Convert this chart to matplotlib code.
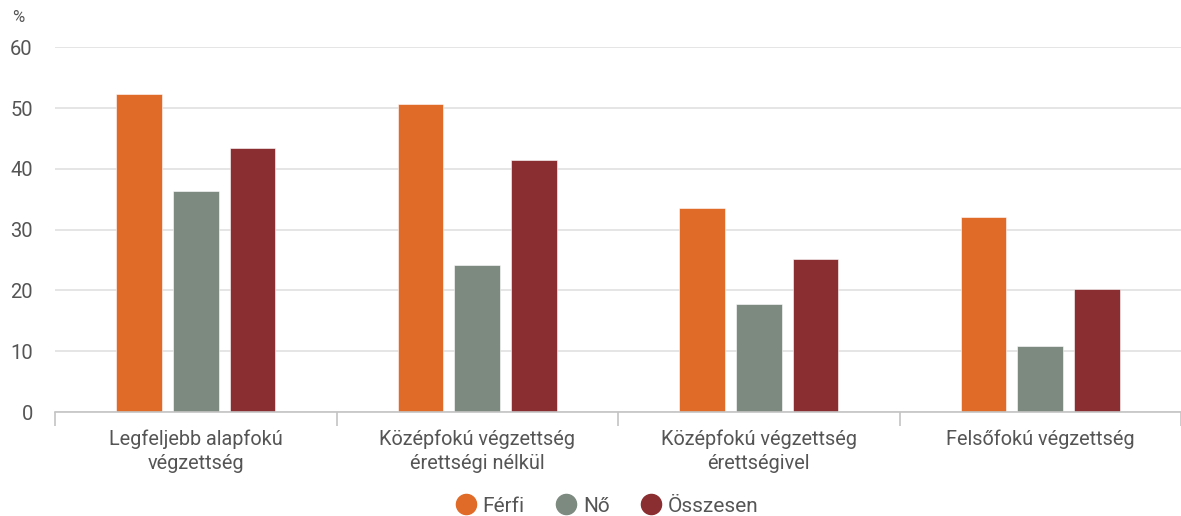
import matplotlib
matplotlib.use("Agg")
import matplotlib.pyplot as plt
from matplotlib.lines import Line2D
import numpy as np

plt.rcParams['font.family'] = ['Roboto', 'DejaVu Sans']

categories = ["Legfeljebb alapfokú\nvégzettség",
              "Középfokú végzettség\nérettségi nélkül",
              "Középfokú végzettség\nérettségivel",
              "Felsőfokú végzettség"]
series_names = ["Férfi", "Nő", "Összesen"]
ferfi = [52.3, 50.6, 33.5, 32.0]
no = [36.4, 24.2, 17.7, 10.8]
osszesen = [43.5, 41.4, 25.2, 20.3]
yticks = [0, 10, 20, 30, 40, 50, 60]

colors = ["#E06B29", "#7D8A7F", "#8B2E31"]
text_color = "#555555"

W, H = 1181, 516
fig = plt.figure(figsize=(W / 100, H / 100), dpi=100)
left_px, right_px, top_px, bottom_px = 55, 1181, 47.3, 412
ax = fig.add_axes([left_px / W, (H - bottom_px) / H,
                   (right_px - left_px) / W, (bottom_px - top_px) / H])

cat_px = 283.7
x = np.arange(len(categories))
width = 0.162
step = 0.201
for k, (vals, name) in enumerate(zip([ferfi, no, osszesen], series_names)):
    ax.bar(x + (k - 1) * step, vals, width, color=colors[k], zorder=3,
           edgecolor="white", linewidth=0.4)

ax.set_xlim(-0.5, -0.5 + (right_px - left_px) / cat_px)
ax.set_ylim(0, 60)
ax.set_yticks(yticks)
ax.set_yticklabels([str(v) for v in yticks], fontsize=14.5, color=text_color)
ax.tick_params(axis='y', length=0, pad=16)
ax.grid(axis='y', color="#e3e3e3", linewidth=1.3, zorder=0)

# category labels centred under each group, boundary ticks between groups
ax.set_xticks(np.arange(len(categories) + 1) - 0.5, minor=False)
ax.set_xticklabels([])
ax.tick_params(axis='x', length=10, width=1.2, color="#c4c4c4", direction='out')
for i, lab in enumerate(categories):
    ax.text(i, -2.9, lab, ha='center', va='top', fontsize=14.3,
            color=text_color, linespacing=1.35)

for s in ['top', 'right', 'left']:
    ax.spines[s].set_visible(False)
ax.spines['bottom'].set_color("#c4c4c4")
ax.spines['bottom'].set_linewidth(1.2)
ax.spines['bottom'].set_zorder(4)

fig.text(12 / W, 1 - 18 / H, "%", fontsize=12, color=text_color,
         ha='left', va='center')

handles = [Line2D([], [], marker='o', linestyle='none', markersize=14.5,
                  markerfacecolor=c, markeredgecolor=c) for c in colors]
fig.legend(handles, series_names, loc='center', ncol=3,
           bbox_to_anchor=(606 / W, 1 - 506 / H), frameon=False,
           fontsize=15, labelcolor=text_color, handletextpad=0.2,
           columnspacing=1.4, handlelength=1.2)

fig.savefig("out.png", dpi=100)
